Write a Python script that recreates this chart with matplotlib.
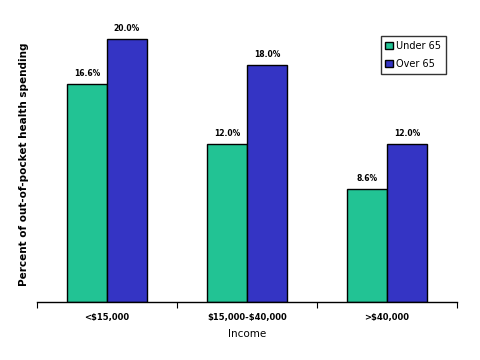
import matplotlib
matplotlib.use("Agg")
import matplotlib.pyplot as plt
import numpy as np

plt.rcParams["text.parse_math"] = False

categories = ["<$15,000", "$15,000-$40,000", ">$40,000"]
under65 = [16.6, 12.0, 8.6]
over65 = [20.0, 18.0, 12.0]
under_labels = ["16.6%", "12.0%", "8.6%"]
over_labels = ["20.0%", "18.0%", "12.0%"]

fig = plt.figure(figsize=(4.8, 3.6), dpi=100)
ax = fig.add_axes([37/480, (360-302)/360, 420/480, 275/360])

x = np.arange(len(categories))
w = 40/140
c_green = "#22c394"
c_blue = "#3434c4"
b1 = ax.bar(x - w/2, under65, w, color=c_green, edgecolor="black", linewidth=1, label="Under 65")
b2 = ax.bar(x + w/2, over65, w, color=c_blue, edgecolor="black", linewidth=1, label="Over 65")

for bars, labs in ((b1, under_labels), (b2, over_labels)):
    for r, t in zip(bars, labs):
        ax.text(r.get_x() + r.get_width()/2, r.get_height() + 0.45, t,
                ha="center", va="bottom", fontsize=5.5, fontweight="bold")

ax.set_xlim(-0.5, 2.5)
ax.set_ylim(0, 20.9)
for s in ("top", "right", "left"):
    ax.spines[s].set_visible(False)
ax.spines["bottom"].set_linewidth(1)
ax.set_yticks([])
ax.set_xticks([-0.5, 0.5, 1.5, 2.5])
ax.set_xticklabels([])
ax.tick_params(axis="x", length=4, width=0.8, direction="out")
ax.set_xticks(x, minor=True)
ax.set_xticklabels(categories, minor=True, fontsize=6, fontweight="bold")
ax.tick_params(axis="x", which="minor", length=0, pad=8)

ax.set_xlabel("Income", fontsize=7.5, labelpad=5)
ax.set_ylabel("Percent of out-of-pocket health spending", fontsize=7.5, fontweight="bold", labelpad=6)

leg = ax.legend(loc="upper right", bbox_to_anchor=(446/480, 1 - 36/360), bbox_transform=fig.transFigure,
                fontsize=7, frameon=True, fancybox=False, handlelength=0.8, handleheight=0.8,
                handletextpad=0.3, borderpad=0.5, labelspacing=0.8, borderaxespad=0)
leg.get_frame().set_edgecolor("black")
leg.get_frame().set_linewidth(1)

fig.savefig("out.png", dpi=100)
